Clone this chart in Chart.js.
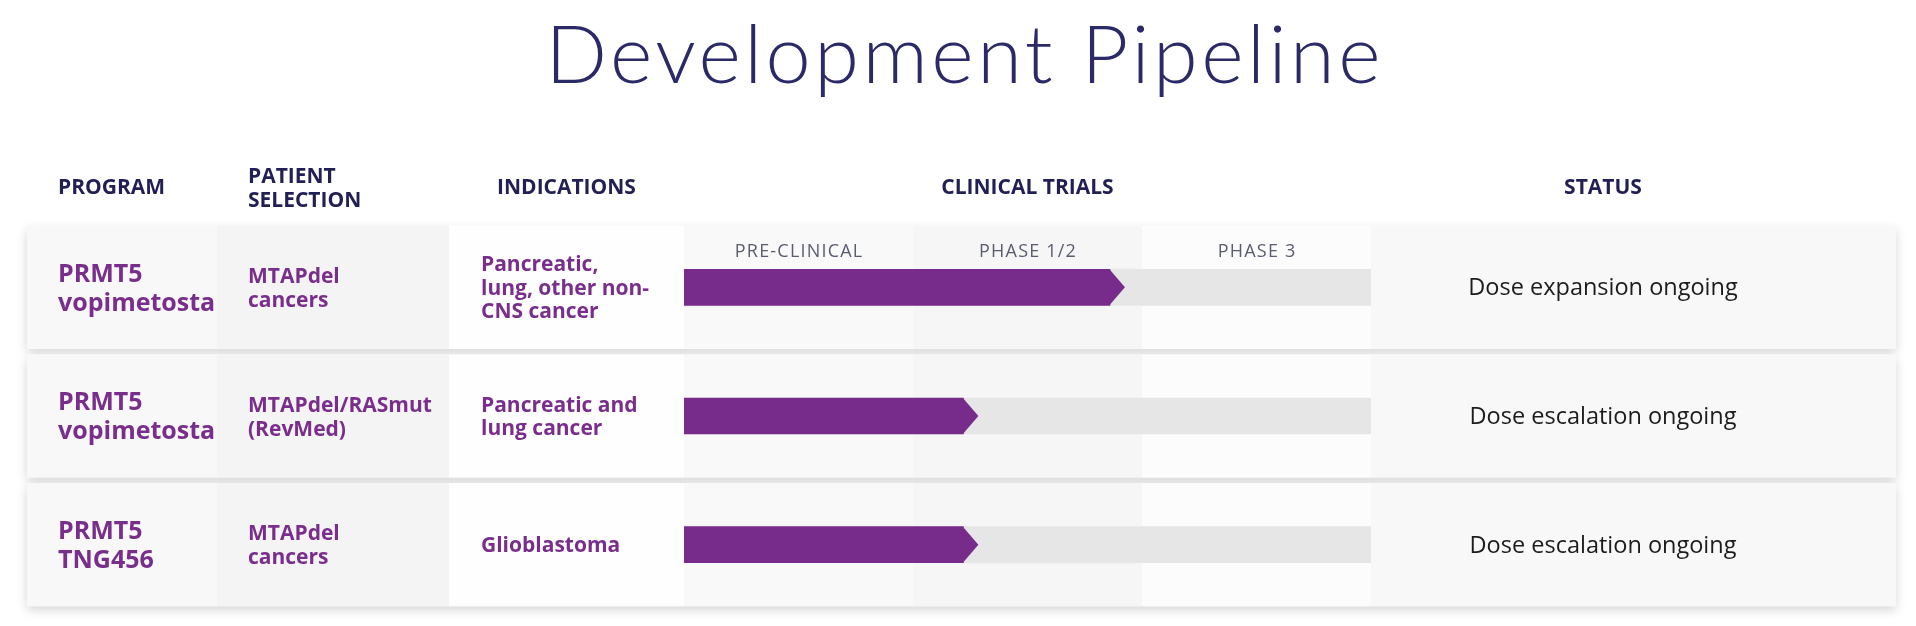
<!DOCTYPE html>
<html>
<head>
<meta charset="utf-8">
<title>Development Pipeline</title>
<script src="https://cdn.jsdelivr.net/npm/chart.js@4.4.1/dist/chart.umd.min.js"></script>
<style>
  html, body { margin: 0; padding: 0; background: #ffffff; }
  #wrap { width: 1916px; height: 626px; }
</style>
</head>
<body>
<div id="wrap"><canvas id="pipeline" width="1916" height="626"></canvas></div>
<script>
var chartTitle = 'Development Pipeline';
var headers = ['PROGRAM', 'PATIENT\nSELECTION', 'INDICATIONS', 'CLINICAL TRIALS', 'STATUS'];
var programs = [['PRMT5', 'vopimetosta'], ['PRMT5', 'vopimetosta'], ['PRMT5', 'TNG456']];
var patientSelection = [['MTAPdel', 'cancers'], ['MTAPdel/RASmut', '(RevMed)'], ['MTAPdel', 'cancers']];
var indications = [['Pancreatic,', 'lung, other non-', 'CNS cancer'], ['Pancreatic and', 'lung cancer'], ['Glioblastoma']];
var phases = ['PRE-CLINICAL', 'PHASE 1/2', 'PHASE 3'];
var progress = [1.86, 1.22, 1.22];   // body end of each arrow, in phases
var phaseTrack = [3, 3, 3];
var statuses = ['Dose expansion ongoing', 'Dose escalation ongoing', 'Dose escalation ongoing'];

// page layout
var PAGE_W = 1916;
var ROW_LEFT = 27, ROW_RIGHT = 1896, ROW_HALF = 61.5;
var COL_PATIENT = 217, COL_IND = 449;
var TRACK_LEFT = 684, TRACK_RIGHT = 1371;
var PURPLE = '#772b8b', TEXT_PURPLE = '#7a2e8c', NAVY = '#221f55';
var FONT = '"Open Sans", "Noto Sans", sans-serif';

function drawLines(ctx, lines, x, cy, lineH, capH) {
    var n = lines.length;
    for (var i = 0; i < n; i++) {
        ctx.fillText(lines[i], x, cy + (i - (n - 1) / 2) * lineH + capH / 2);
    }
}

var tablePlugin = {
    id: 'pipelineTable',
    beforeDatasetsDraw: function(chart) {
        var ctx = chart.ctx;
        var xs = chart.scales.x, ys = chart.scales.y;
        ctx.save();

        // title: a bit smaller than Lato's natural fit, spaced out to the slide's width
        ctx.fillStyle = '#2b2968';
        ctx.font = '300 78px Lato, ' + FONT;
        var w = ctx.measureText(chartTitle).width;
        var size = 78 * 835 / w * 0.92;
        ctx.font = '300 ' + size.toFixed(1) + 'px Lato, ' + FONT;
        var spacing = (835 - ctx.measureText(chartTitle).width) / (chartTitle.length - 1);
        ctx.letterSpacing = spacing.toFixed(1) + 'px';
        ctx.textAlign = 'center';
        ctx.textBaseline = 'alphabetic';
        ctx.fillText(chartTitle, 963 + spacing / 2, 83);
        ctx.letterSpacing = '0px';

        // column headers
        ctx.fillStyle = NAVY;
        ctx.font = '700 21px ' + FONT;
        ctx.textAlign = 'left';
        ctx.fillText(headers[0], 58, 194);
        drawLines(ctx, headers[1].split('\n'), 248, 187, 24, 15);
        ctx.textAlign = 'center';
        ctx.fillText(headers[2], (COL_IND + TRACK_LEFT) / 2, 194);
        ctx.fillText(headers[3], (xs.getPixelForValue(0) + xs.getPixelForValue(phases.length)) / 2, 194);
        ctx.fillText(headers[4], 1603, 194);

        // row cards with a soft shadow, then the column tints
        for (var i = 0; i < programs.length; i++) {
            var cy = ys.getPixelForValue(i);
            var top = cy - ROW_HALF, h = ROW_HALF * 2;
            ctx.save();
            ctx.shadowColor = 'rgba(0,0,0,0.16)';
            ctx.shadowBlur = 10;
            ctx.shadowOffsetY = 4;
            ctx.fillStyle = '#fbfbfb';
            ctx.fillRect(ROW_LEFT, top, ROW_RIGHT - ROW_LEFT, h);
            ctx.restore();

            var cols = [
                [ROW_LEFT, COL_PATIENT, '#f8f8f8'],
                [COL_PATIENT, COL_IND, '#f4f4f4'],
                [COL_IND, TRACK_LEFT, '#fefefe'],
                [xs.getPixelForValue(0), xs.getPixelForValue(1), '#f9f9f9'],
                [xs.getPixelForValue(1), xs.getPixelForValue(2), '#f6f6f6'],
                [xs.getPixelForValue(2), xs.getPixelForValue(3), '#fcfcfc'],
                [TRACK_RIGHT, ROW_RIGHT, '#f8f8f8']
            ];
            cols.forEach(function(c) {
                ctx.fillStyle = c[2];
                ctx.fillRect(c[0], top, c[1] - c[0], h);
            });
        }
        ctx.restore();
    },
    afterDatasetsDraw: function(chart) {
        var ctx = chart.ctx;
        var xs = chart.scales.x, ys = chart.scales.y;
        ctx.save();

        // arrow heads on the progress bars
        var meta = chart.getDatasetMeta(0);
        ctx.fillStyle = PURPLE;
        meta.data.forEach(function(bar) {
            var p = bar.getProps(['x', 'y', 'height'], true);
            ctx.beginPath();
            ctx.moveTo(p.x - 0.5, p.y - p.height / 2);
            ctx.lineTo(p.x + 15, p.y);
            ctx.lineTo(p.x - 0.5, p.y + p.height / 2);
            ctx.closePath();
            ctx.fill();
        });

        // phase names sit only in the first row
        var firstTop = ys.getPixelForValue(0) - ROW_HALF;
        ctx.fillStyle = '#5a5c70';
        ctx.font = '400 18px ' + FONT;
        ctx.letterSpacing = '1.2px';
        ctx.textAlign = 'center';
        for (var k = 0; k < phases.length; k++) {
            ctx.fillText(phases[k], (xs.getPixelForValue(k) + xs.getPixelForValue(k + 1)) / 2 + 0.6, firstTop + 31);
        }
        ctx.letterSpacing = '0px';

        for (var i = 0; i < programs.length; i++) {
            var cy = ys.getPixelForValue(i);
            ctx.textAlign = 'left';
            ctx.fillStyle = TEXT_PURPLE;
            ctx.font = '700 25px ' + FONT;
            drawLines(ctx, programs[i], 58, cy, 29, 17.5);
            ctx.font = '700 21px ' + FONT;
            drawLines(ctx, patientSelection[i], 248, cy, 24, 15);
            drawLines(ctx, indications[i], 481, cy, 23.5, 15);
            ctx.textAlign = 'center';
            ctx.fillStyle = '#1c1c1c';
            ctx.font = '400 23.5px ' + FONT;
            drawLines(ctx, [statuses[i]], 1603, cy, 0, 16);
        }
        ctx.restore();
    }
};

new Chart(document.getElementById('pipeline').getContext('2d'), {
    type: 'bar',
    data: {
        labels: programs.map(function(p) { return p.join(' '); }),
        datasets: [{
            label: 'Progress',
            data: progress,
            backgroundColor: PURPLE,
            order: 0
        }, {
            label: 'Track',
            data: phaseTrack,
            backgroundColor: '#e6e6e6',
            order: 1
        }]
    },
    options: {
        indexAxis: 'y',
        responsive: false,
        animation: false,
        devicePixelRatio: 1,
        layout: { padding: { left: TRACK_LEFT, right: PAGE_W - TRACK_RIGHT, top: 223, bottom: 17 } },
        datasets: { bar: { grouped: false, barThickness: 36, borderWidth: 0 } },
        scales: {
            x: { type: 'linear', min: 0, max: phases.length, display: false },
            y: { type: 'category', display: false }
        },
        plugins: { legend: { display: false }, tooltip: { enabled: false }, title: { display: false } }
    },
    plugins: [tablePlugin]
});
</script>
</body>
</html>
